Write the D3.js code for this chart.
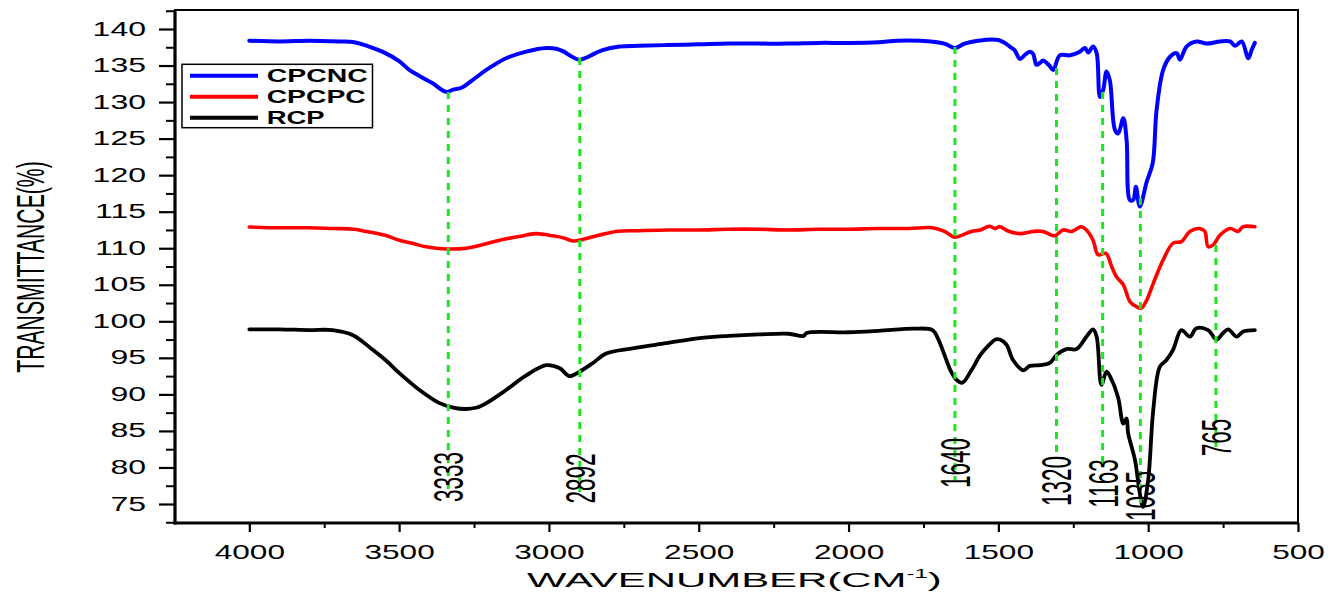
<!DOCTYPE html>
<html><head><meta charset="utf-8">
<script src="https://cdn.jsdelivr.net/npm/d3@7"></script>
<style>body{margin:0;background:#fff} svg{display:block} text{font-family:"Liberation Sans",Arial,sans-serif;fill:#000}</style>
</head><body><svg id="c" width="1342" height="601"></svg>
<script>
// ---------- data ----------
const cpcncWn=[4000,3900,3800,3700,3650,3600,3556,3500,3466,3420,3389,3343,3320,3290,3255,3209,3143,3076,3009,2976,2950,2931,2900,2880,2864,2821,2764,2700,2608,2500,2400,2300,2200,2100,2000,1900,1836,1725,1680,1645,1613,1568,1500,1479,1462,1446,1428,1413,1395,1384,1373,1360,1351,1330,1317,1295,1261,1228,1211,1200,1184,1172,1161,1150,1139,1128,1111,1100,1083,1072,1061,1050,1041,1028,1005,985,972,950,927,905,894,872,839,805,760,727,710,688,666,655,644];
const cpcncT=[138.4,138.3,138.4,138.3,138.2,137.6,136.9,135.6,134.4,133.3,132.6,131.4,131.7,132.0,133.0,134.4,136.0,136.9,137.4,137.3,136.9,136.4,135.8,136.0,136.3,137.1,137.6,137.7,137.8,137.9,138.0,138.0,138.0,138.1,138.1,138.2,138.4,138.3,138.0,137.4,138.0,138.4,138.5,138.1,137.6,137.1,135.9,136.4,136.9,136.6,135.1,135.4,135.7,135.0,134.4,136.4,136.4,136.9,137.4,136.8,137.6,136.7,130.7,131.7,134.2,133.0,126.2,125.7,127.8,124.8,116.6,116.6,118.4,115.7,119.1,121.6,128.9,134.4,136.2,136.7,135.8,137.6,138.3,138.0,138.3,138.3,137.7,138.3,136.0,137.1,138.1];

const cpcpcWn=[4000,3900,3800,3722,3650,3610,3550,3499,3450,3410,3343,3276,3220,3165,3100,3043,2987,2950,2920,2887,2831,2776,2700,2600,2500,2400,2300,2200,2100,2000,1900,1800,1720,1680,1645,1620,1590,1560,1530,1510,1495,1470,1428,1384,1351,1312,1284,1256,1223,1206,1184,1167,1141,1122,1106,1083,1061,1039,1023,1005,983,950,917,889,861,828,811,800,783,760,727,700,683,644];
const cpcpcT=[112.9,112.8,112.8,112.7,112.6,112.3,111.8,111.1,110.6,110.2,109.9,110.0,110.5,111.1,111.6,112.0,111.7,111.4,111.0,111.2,111.8,112.3,112.4,112.5,112.5,112.6,112.6,112.5,112.6,112.6,112.7,112.7,112.8,112.3,111.5,111.8,112.3,112.5,113.0,112.7,112.95,112.4,112.0,112.3,112.3,111.7,112.5,112.3,112.95,112.5,111.1,109.1,109.3,107.5,106.1,105.0,102.7,102.0,101.8,102.9,105.2,108.4,110.7,110.9,112.3,112.7,112.3,110.2,110.45,111.8,112.7,112.3,112.95,112.95];

const rcpWn=[4000,3900,3800,3722,3654,3588,3540,3499,3432,3365,3320,3276,3240,3209,3143,3076,3009,2965,2931,2898,2853,2809,2720,2609,2497,2400,2300,2200,2150,2140,2000,1900,1780,1720,1700,1680,1660,1640,1620,1590,1560,1530,1510,1495,1473,1451,1417,1395,1361,1328,1306,1273,1239,1206,1184,1172,1156,1139,1122,1100,1083,1072,1067,1044,1028,1017,1000,983,961,939,917,889,861,839,800,772,750,733,705,683,644];
const rcpT=[98.9,98.9,98.8,98.8,98.1,96.1,94.5,92.9,90.6,88.8,88.2,88.0,88.2,88.8,90.6,92.6,94.0,93.6,92.5,93.1,94.3,95.6,96.3,97.0,97.7,98.0,98.2,98.3,98.0,98.4,98.5,98.7,99.0,98.8,97.5,95.4,93.3,92.0,91.6,93.3,95.4,96.8,97.5,97.5,96.8,94.7,93.3,93.9,94.0,94.3,95.4,96.2,96.2,97.9,98.9,97.9,91.3,93.1,92.0,89.5,86.0,86.7,84.7,81.0,76.5,74.6,78.3,87.9,93.8,94.7,96.1,98.8,97.9,99.05,98.8,97.5,98.4,98.9,97.9,98.6,98.8];

const seriesNames=["CPCNC","CPCPC","RCP"];
const seriesColors=["#0000ff","#ff0000","#000000"];

const peakLabels=["3333","2892","1640","1320","1163","1035","765"];
const peakWn=[3336,2897,1645,1306,1152,1026,774];
const peakTop=[131.38,136.03,137.54,134.66,131.38,116.87,110.44];
const peakBottom=[75.82,76.64,78.28,81.43,80.61,75.14,82.8];
const peakLabelT=[78.69,78.49,80.61,78.15,77.8,76.1,84.1];

const xTicks=[4000,3500,3000,2500,2000,1500,1000,500];
const xMinor=[4250,3750,3250,2750,2250,1750,1250,750];
const yTicks=[75,80,85,90,95,100,105,110,115,120,125,130,135,140];
const yMinor=[72.5,77.5,82.5,87.5,92.5,97.5,102.5,107.5,112.5,117.5,122.5,127.5,132.5,137.5,142.5];

// ---------- layout ----------
const L=175,R=1298,T=10,B=523;
const svg=d3.select("#c");
const x=d3.scaleLinear().domain([4248,500]).range([L,R]);
const y=d3.scaleLinear().domain([72.4,142.6]).range([B,T]);

// frame
svg.append("rect").attr("x",L).attr("y",T).attr("width",R-L).attr("height",B-T)
  .attr("fill","none").attr("stroke","#000").attr("stroke-width",2);

// curves
const wnArr=[cpcncWn,cpcpcWn,rcpWn], tArr=[cpcncT,cpcpcT,rcpT], widths=[4,3.6,3.8];
const line=d3.line().x(d=>x(d[0])).y(d=>y(d[1])).curve(d3.curveCatmullRom.alpha(0.5));
const clip=svg.append("clipPath").attr("id","pc").append("rect").attr("x",L).attr("y",T).attr("width",R-L).attr("height",B-T);
[2,1,0].forEach(i=>{
  const pts=wnArr[i].map((w,k)=>[w,tArr[i][k]]);
  svg.append("path").datum(pts).attr("d",line).attr("fill","none")
    .attr("stroke",seriesColors[i]).attr("stroke-width",widths[i])
    .attr("stroke-linejoin","round").attr("stroke-linecap","round").attr("clip-path","url(#pc)");
});

// peak guide lines
peakWn.forEach((w,i)=>{
  svg.append("line").attr("x1",x(w)).attr("x2",x(w)).attr("y1",y(peakTop[i])).attr("y2",y(peakBottom[i]))
    .attr("stroke","#1ee61e").attr("stroke-width",3).attr("stroke-dasharray","7,6");
});
// peak labels
peakWn.forEach((w,i)=>{
  svg.append("text").attr("transform",`translate(${x(w)},${y(peakLabelT[i])}) scale(1.85,1) rotate(-90)`)
    .attr("text-anchor","middle").attr("dy","0.36em").attr("font-size",22.5).text(peakLabels[i]);
});

// x axis
const gx=svg.append("g").attr("transform",`translate(0,${B})`)
  .call(d3.axisBottom(x).tickValues(xTicks).tickSize(9).tickFormat(d3.format("d")));
gx.select(".domain").remove();
gx.selectAll(".tick line").attr("stroke","#000").attr("stroke-width",2.2);
gx.selectAll(".tick text").attr("y",0).attr("dy",0).attr("font-size",20)
  .attr("font-family","Liberation Sans, Arial, sans-serif")
  .attr("transform","translate(0,36) scale(1.58,1)");
const gxm=svg.append("g").attr("transform",`translate(0,${B})`)
  .call(d3.axisBottom(x).tickValues(xMinor.filter(v=>v<=4248)).tickSize(5).tickFormat(""));
gxm.select(".domain").remove();
gxm.selectAll(".tick line").attr("stroke","#000").attr("stroke-width",2);

// y axis
const gy=svg.append("g").attr("transform",`translate(${L},0)`)
  .call(d3.axisLeft(y).tickValues(yTicks).tickSize(16).tickFormat(d3.format("d")));
gy.select(".domain").remove();
gy.selectAll(".tick line").attr("stroke","#000").attr("stroke-width",2.2);
gy.selectAll(".tick text").attr("x",0).attr("dy","0.3em").attr("font-size",20)
  .attr("font-family","Liberation Sans, Arial, sans-serif")
  .attr("transform","translate(-29,0) scale(1.6,1)");
const gym=svg.append("g").attr("transform",`translate(${L},0)`)
  .call(d3.axisLeft(y).tickValues(yMinor.filter(v=>v<=142.6)).tickSize(9).tickFormat(""));
gym.select(".domain").remove();
gym.selectAll(".tick line").attr("stroke","#000").attr("stroke-width",2);

// thick left & bottom axis lines
svg.append("line").attr("x1",L).attr("x2",L).attr("y1",T).attr("y2",B+1.5).attr("stroke","#000").attr("stroke-width",3.2);
svg.append("line").attr("x1",L-1.5).attr("x2",R).attr("y1",B).attr("y2",B).attr("stroke","#000").attr("stroke-width",3.2);

// axis titles
svg.append("text").attr("transform","translate(30,267) scale(1.85,1) rotate(-90)")
  .attr("text-anchor","middle").attr("dy","0.36em").attr("font-size",21.2).text("TRANSMITTANCE(%)");
const xt=svg.append("text").attr("font-size",21).attr("text-anchor","start");
xt.append("tspan").text("WAVENUMBER(CM");
xt.append("tspan").attr("font-size",12).attr("dy",-9).text("-1");
xt.append("tspan").attr("dy",9).text(")");
const xw=xt.node().getComputedTextLength();
xt.attr("transform",`translate(527,587) scale(${415/xw},1)`);

// legend
const lg=svg.append("g");
lg.append("rect").attr("x",182).attr("y",64.3).attr("width",190.5).attr("height",63.4)
  .attr("fill","#fff").attr("stroke","#000").attr("stroke-width",1.5);
const legY=[75.7,96.7,117.7], legW=[101,99,58];
seriesNames.forEach((n,i)=>{
  lg.append("line").attr("x1",190).attr("x2",258).attr("y1",legY[i]).attr("y2",legY[i])
    .attr("stroke",seriesColors[i]).attr("stroke-width",4);
  const t=lg.append("text").attr("font-size",18.6).attr("font-weight","bold").attr("dy","0.36em").text(n);
  const w=t.node().getComputedTextLength();
  t.attr("transform",`translate(266.7,${legY[i]}) scale(${legW[i]/w},1)`);
});
</script></body></html>
